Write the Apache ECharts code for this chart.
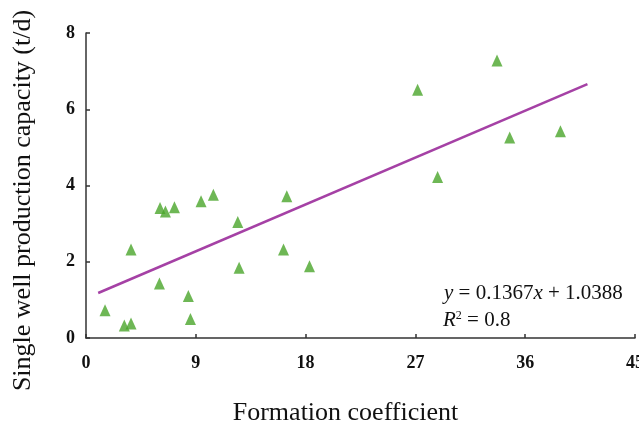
<!DOCTYPE html>
<html>
<head>
<meta charset="utf-8">
<script src="https://cdn.jsdelivr.net/npm/echarts@6/dist/echarts.min.js"></script>
<style>html,body{margin:0;padding:0;background:#fff;}#c{width:639px;height:427px;}</style>
</head>
<body>
<div id="c"></div>
<script>
const formationCoef = [1.56, 3.14, 3.69, 3.69, 6.07, 6.51, 7.25, 6.02, 8.39, 8.56, 9.43, 10.44, 12.44, 12.55, 16.46, 16.19, 18.32, 27.18, 28.82, 33.69, 34.73, 38.89];
const capacity      = [0.73, 0.33, 0.38, 2.32, 3.41, 3.32, 3.43, 1.43, 1.10, 0.50, 3.59, 3.76, 3.04, 1.84, 3.72, 2.32, 1.88, 6.51, 4.22, 7.28, 5.26, 5.42];
const trendX = [1.0, 41.1];
const trendY = [1.18, 6.66];
const xTicks = [0, 9, 18, 27, 36, 45];
const yTicks = [0, 2, 4, 6, 8];

const chart = echarts.init(document.getElementById('c'), null, {renderer: 'canvas'});
const serif = '"Liberation Serif", "Times New Roman", serif';
const tickFont = {fontFamily: serif, fontWeight: 'bold', fontSize: 18, color: '#111'};

chart.setOption({
  animation: false,
  backgroundColor: '#fff',
  grid: {left: 86, top: 33, right: 4, bottom: 89, containLabel: false, outerBoundsMode: 'none'},
  xAxis: {
    type: 'value', min: xTicks[0], max: xTicks[xTicks.length - 1], interval: 9,
    name: 'Formation coefficient', nameLocation: 'middle', nameGap: 62,
    nameTextStyle: {fontFamily: serif, fontSize: 26, color: '#111', padding: [0, 30, 0, 0]},
    axisLine: {lineStyle: {color: '#333', width: 1.5}},
    axisTick: {inside: true, length: 4, lineStyle: {color: '#333', width: 1.5}},
    axisLabel: Object.assign({margin: 16}, tickFont),
    splitLine: {show: false}
  },
  yAxis: {
    type: 'value', min: yTicks[0], max: yTicks[yTicks.length - 1], interval: 2,
    name: 'Single well production capacity (t/d)', nameLocation: 'middle', nameGap: 50,
    nameTextStyle: {fontFamily: serif, fontSize: 26, color: '#111', padding: [0, 30, 0, 0]},
    axisLine: {show: true, lineStyle: {color: '#333', width: 1.5}},
    axisTick: {show: true, inside: true, length: 4, lineStyle: {color: '#333', width: 1.5}},
    axisLabel: Object.assign({margin: 11}, tickFont),
    splitLine: {show: false}
  },
  series: [
    {
      type: 'line',
      data: trendX.map((x, i) => [x, trendY[i]]),
      symbol: 'none',
      lineStyle: {color: '#a541a5', width: 2.5},
      z: 2
    },
    {
      type: 'scatter',
      data: formationCoef.map((x, i) => [x, capacity[i]]),
      symbol: 'triangle',
      symbolSize: [11, 12],
      itemStyle: {color: '#4aa52a'},
      z: 3
    }
  ],
  graphic: [
    {
      type: 'text', left: 444, top: 283,
      style: {
        text: '{i|y} = 0.1367{i|x} + 1.0388',
        font: '21px ' + serif, fill: '#111',
        rich: {i: {fontStyle: 'italic', fontFamily: serif, fontSize: 21, fill: '#111'}}
      }
    },
    {
      type: 'text', left: 443, top: 310,
      style: {
        text: '{i|R}{s|2} = 0.8',
        font: '21px ' + serif, fill: '#111',
        rich: {
          i: {fontStyle: 'italic', fontFamily: serif, fontSize: 21, fill: '#111'},
          s: {fontFamily: serif, fontSize: 12, fill: '#111', verticalAlign: 'top', padding: [0, 0, 8, 0]}
        }
      }
    }
  ]
});
</script>
</body>
</html>
